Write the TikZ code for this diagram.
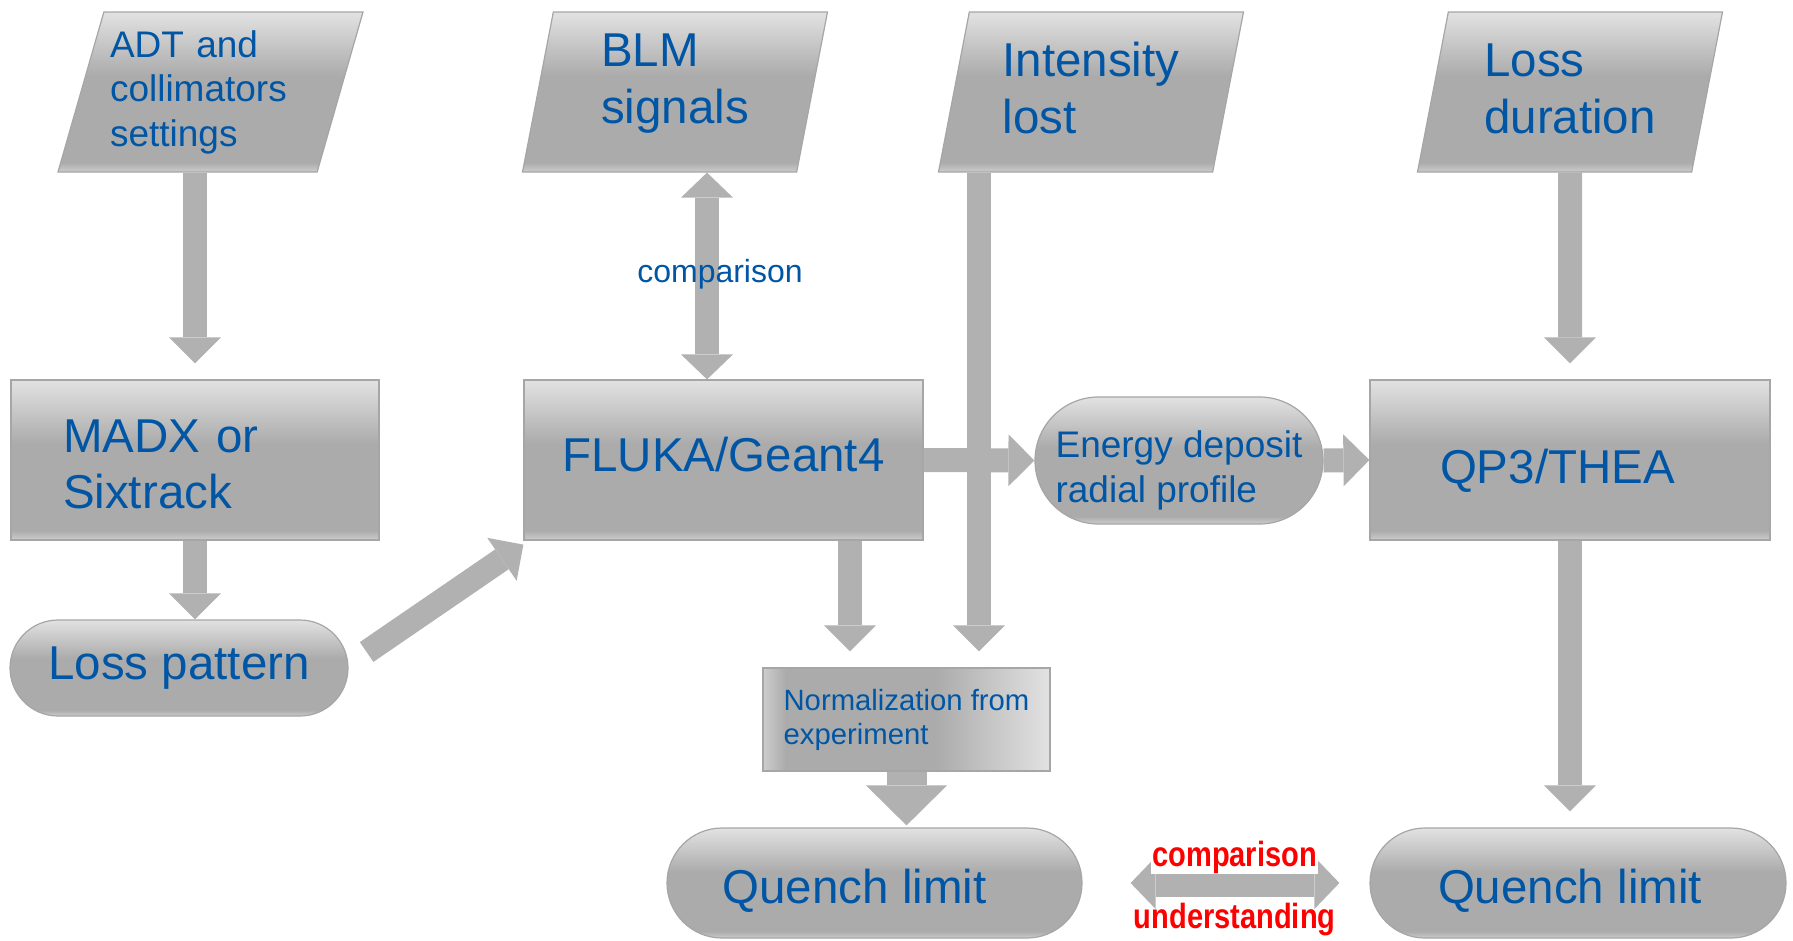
\documentclass[tikz,border=0pt]{standalone}
\usepackage{fontspec}
\setmainfont{Liberation Sans}
\newfontfamily\narrowsans[FakeStretch=0.83]{Liberation Sans}
\usepackage{tikz}
\usetikzlibrary{arrows.meta,calc,positioning,shapes.geometric,shapes.misc}
\definecolor{flowblue}{HTML}{0056A4}
\definecolor{boxedge}{HTML}{A6A6A6}
\definecolor{arrgray}{HTML}{B1B1B1}
\definecolor{shhi}{HTML}{E2E2E2}
\definecolor{shdark}{HTML}{ABABAB}
\definecolor{shlo}{HTML}{CDCDCD}
\pgfdeclareverticalshading{boxshade}{100bp}{color(0bp)=(shlo); color(25bp)=(shlo); color(28bp)=(shdark); color(55bp)=(shdark); color(75bp)=(shhi); color(100bp)=(shhi)}
\pgfdeclarehorizontalshading{sideshade}{100bp}{color(0bp)=(shlo); color(25bp)=(shlo); color(29bp)=(shdark); color(55bp)=(shdark); color(75bp)=(shhi); color(100bp)=(shhi)}

\begin{document}
\begin{tikzpicture}[x=1pt, y=-1pt,
    every node/.style={text=flowblue, align=left},
    big/.style={font=\fontsize{47.5}{56.5}\selectfont},
    mid/.style={font=\fontsize{37}{44.5}\selectfont},
    box/.style={draw=boxedge, line width=1.2pt, shading=boxshade, inner sep=0pt},
    inbox/.style={box, trapezium, trapezium left angle=69.4, trapezium right angle=110.6,
      trapezium stretches body, minimum width=305pt, minimum height=160pt},
    proc/.style={box, rectangle, minimum height=160pt},
    term/.style={box, rounded rectangle},
    blk/.style={draw=arrgray, line width=24pt, -{Triangle[length=26pt, width=52pt, line width=0pt]}},
    dblk/.style={draw=arrgray, line width=24pt,
      {Triangle[length=25pt, width=52pt, line width=0pt]}-{Triangle[length=25pt, width=52pt, line width=0pt]}},
    redlbl/.style={text=red, font=\narrowsans\bfseries\fontsize{35}{40}\selectfont, inner sep=1pt}]
\useasboundingbox (0,0) rectangle (1793,940);
% inputs
\node[inbox, mid, text width=201pt, text height=26pt, text depth=96pt] (adt) at (210.5,92) {ADT and\\collimators\\settings};
\node[inbox, big, text height=72pt, text depth=10pt] (blm) at (675,92) {BLM\\signals};
\node[inbox, big, text height=82pt, text depth=0pt] (ilost) at (1091,92) {Intensity\\lost};
\node[inbox, big, text height=82pt, text depth=0pt] (ldur) at (1570,92) {Loss\\duration};
% codes
\node[proc, big, minimum width=368pt, text width=264pt, text height=34pt, text depth=50pt] (madx) at (195,460) {MADX or\\Sixtrack};
\node[proc, big, minimum width=399pt, text height=22pt, text depth=0pt] (fluka) at (723.5,460) {FLUKA/Geant4};
\node[term, mid, minimum width=288pt, minimum height=127pt, text height=83pt, text depth=0pt] (edep) at (1179,460.5) {Energy deposit\\radial profile};
\node[proc, big, minimum width=400pt, text width=260pt, text height=46pt, text depth=0pt] (qp3) at (1570,460) {QP3/THEA};
% results
\node[term, big, minimum width=338pt, minimum height=96pt] (lpat) at (179,668) {Loss pattern};
\node[box, rectangle, shading=sideshade, font=\fontsize{29.3}{34}\selectfont,
  minimum width=287pt, minimum height=103pt] (norm) at (906.5,719.5) {Normalization from\\experiment};
\node[term, big, minimum width=415pt, minimum height=110pt, text height=40pt, text depth=0pt] (qlim1) at (874.5,883) {Quench limit\hspace*{40pt}};
\node[term, big, minimum width=416pt, minimum height=110pt, text height=40pt, text depth=0pt] (qlim2) at (1578,883) {Quench limit\hspace*{16pt}};
% block arrows
\draw[blk, shorten >=16pt] (adt.south -| madx.north) -- (madx.north);
\draw[blk] (madx.south) -- (lpat.north -| madx.south);
\draw[dblk] ([xshift=-16.5pt]fluka.north |- blm.south) -- ([xshift=-16.5pt]fluka.north)
  node[pos=0.53, anchor=base, xshift=13pt, font=\fontsize{32}{38}\selectfont] (cmp1) {comparison};
\draw[blk, shorten >=16pt] ([xshift=72.5pt]norm.north |- ilost.south) -- ([xshift=72.5pt]norm.north);
\draw[blk, shorten >=16pt] ([xshift=126.5pt]fluka.south) -- ([xshift=126.5pt]fluka.south |- norm.north);
\draw[blk, line width=40pt, -{Triangle[length=40pt, width=81pt, line width=0pt]}, shorten >=2pt]
  (norm.south) -- (qlim1.north -| norm.south);
\draw[blk] (fluka.east) -- (edep.west);
\draw[blk] (edep.east) -- (qp3.west);
\draw[blk] ($(lpat.east)+(18,-16)$) -- ([yshift=-4pt]fluka.south west);
\draw[blk, shorten >=16pt] (ldur.south) -- (qp3.north);
\draw[blk, shorten >=16pt] (qp3.south) -- (qlim2.north -| qp3.south);
\draw[dblk, line width=27pt, shorten <=48pt, shorten >=30pt] (qlim1.east) -- (qlim2.west)
  node[pos=0.53, redlbl, anchor=base, yshift=17pt, fill=white] (cmp2) {comparison}
  node[pos=0.53, redlbl, anchor=base, yshift=-45pt] (und) {understanding};
\end{tikzpicture}
\end{document}
